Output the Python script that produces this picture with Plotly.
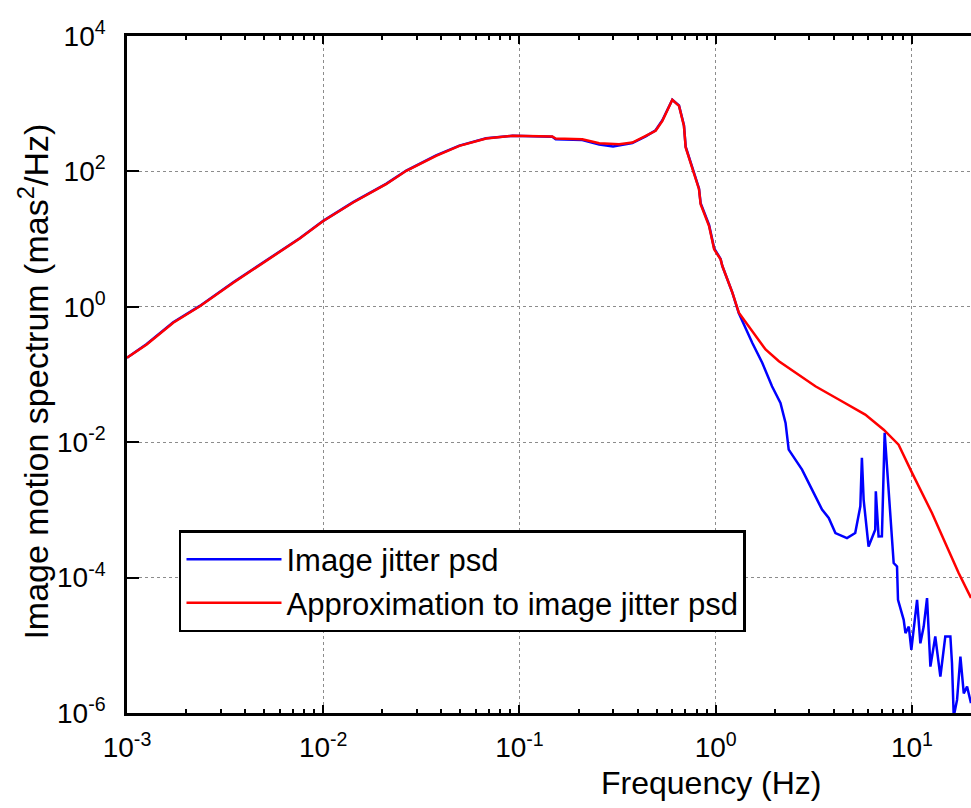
import plotly.graph_objects as go

# ---- data (Hz, mas^2/Hz) ----
freq_red = [0.001, 0.00126, 0.00172, 0.00235, 0.00348, 0.00514, 0.00759, 0.01, 0.0142, 0.0209,
            0.0265, 0.0376, 0.0494, 0.0676, 0.0923, 0.147, 0.153, 0.209, 0.255, 0.322,
            0.376, 0.44, 0.494, 0.535, 0.601, 0.65, 0.689, 0.703, 0.76, 0.822,
            0.838, 0.925, 0.982, 1.059, 1.081, 1.216, 1.312, 1.476, 1.795, 2.099,
            2.553, 3.221, 4.236, 5.781, 7.178, 8.551, 10.0, 12.65, 14.79, 17.3,
            19.45, 20.0]
psd_red = [0.177, 0.278, 0.582, 1.02, 2.27, 4.74, 10.2, 18.5, 34.7, 64.7,
           102, 170, 238, 306, 335, 328, 306, 299, 261, 252,
           267, 335, 398, 558, 1143, 931, 471, 226, 108, 54.6,
           32.7, 15.6, 7.06, 5.02, 4.0, 1.62, 0.818, 0.519, 0.234, 0.157,
           0.106, 0.0671, 0.0427, 0.0256, 0.0153, 0.0092, 0.00355, 0.0009, 0.000324, 0.000117,
           0.000059, 0.00005]

freq_blue = [0.001, 0.00126, 0.00172, 0.00235, 0.00348, 0.00514, 0.00759, 0.01, 0.0142, 0.0209,
             0.0265, 0.0376, 0.0494, 0.0676, 0.0923, 0.147, 0.153, 0.209, 0.255, 0.3,
             0.322, 0.376, 0.44, 0.494, 0.535, 0.601, 0.65, 0.689, 0.703, 0.76,
             0.822, 0.838, 0.925, 0.982, 1.059, 1.081, 1.216, 1.312, 1.365, 1.535,
             1.726, 1.936, 2.138, 2.27, 2.355, 2.754, 3.097, 3.483, 3.767, 4.074,
             4.667, 5.14, 5.458, 5.559, 5.675, 6.012, 6.501, 6.546, 6.761, 7.031,
             7.261, 7.603, 8.072, 8.395, 8.492, 9.078, 9.268, 9.638, 9.931, 10.62,
             11.04, 11.48, 11.94, 12.42, 13.15, 13.96, 14.79, 15.7, 16.0, 16.33,
             16.98, 17.66, 18.37, 19.1, 19.72, 20.0]
psd_blue = [0.177, 0.282, 0.59, 1.03, 2.3, 4.8, 10.3, 18.6, 35.2, 65.5,
            103, 172, 240, 308, 335, 326, 298, 290, 250, 233,
            240, 262, 330, 405, 570, 1143, 940, 480, 232, 112,
            56, 34, 16.2, 7.3, 5.1, 4.0, 1.62, 0.8, 0.615, 0.294,
            0.149, 0.0671, 0.0381, 0.0193, 0.00778, 0.00394, 0.00199, 0.00101, 0.000759, 0.000455,
            0.000384, 0.000455, 0.00113, 0.00586, 0.00141, 0.000288, 0.000509, 0.00188, 0.000406, 0.000407,
            0.01374, 0.00178, 0.000164, 0.000146, 0.000047, 0.0000238, 0.0000151, 0.0000189, 0.00000855, 0.000047,
            0.0000107, 0.0000189, 0.0000498, 0.00000484, 0.0000135, 0.00000344, 0.0000135, 0.0000135, 0.00000543, 0.00000089,
            0.00000156, 0.0000068, 0.00000195, 0.00000245, 0.00000155, 0.0000014]

x_tick_vals = [1e-3, 1e-2, 1e-1, 1e0, 1e1]
x_tick_text = ["10<sup>-3</sup>", "10<sup>-2</sup>", "10<sup>-1</sup>", "10<sup>0</sup>", "10<sup>1</sup>"]
y_tick_vals = [1e-6, 1e-4, 1e-2, 1e0, 1e2, 1e4]
y_tick_text = ["10<sup>-6</sup>", "10<sup>-4</sup>", "10<sup>-2</sup>", "10<sup>0</sup>", "10<sup>2</sup>", "10<sup>4</sup>"]
x_minor_vals = [m * 10.0 ** k for k in range(-3, 2) for m in range(2, 10)]

series_names = ["Image jitter psd", "Approximation to image jitter psd"]

FONT = "Liberation Sans, Arial, Helvetica, sans-serif"

fig = go.Figure()
fig.add_trace(go.Scatter(x=freq_blue, y=psd_blue, mode="lines", name=series_names[0],
                         line=dict(color="#0000ff", width=2.5)))
fig.add_trace(go.Scatter(x=freq_red, y=psd_red, mode="lines", name=series_names[1],
                         line=dict(color="#ff0000", width=2.5)))

fig.update_layout(
    width=971, height=808,
    margin=dict(l=127, r=0, t=36, b=95),
    paper_bgcolor="white", plot_bgcolor="white",
    font=dict(family=FONT, size=28, color="black"),
    showlegend=True,
    legend=dict(x=0.0616, y=0.27, xanchor="left", yanchor="top",
                bgcolor="white", bordercolor="black", borderwidth=2.5,
                font=dict(family=FONT, size=31, color="black"),
                itemwidth=95, tracegroupgap=0),
    xaxis=dict(type="log", range=[-3, 1.301], tickmode="array",
               tickvals=x_tick_vals, ticktext=x_tick_text,
               ticks="inside", ticklen=8, tickwidth=2, tickcolor="black",
               showline=True, linecolor="black", linewidth=2.5, mirror="allticks",
               showgrid=True, gridcolor="#8c8c8c", griddash="dot", gridwidth=1,
               zeroline=False, ticklabelstandoff=8,
               minor=dict(tickmode="array", tickvals=x_minor_vals, ticks="inside",
                          ticklen=4, tickwidth=2, tickcolor="black", showgrid=False),
               tickfont=dict(family=FONT, size=28, color="black")),
    yaxis=dict(type="log", range=[-6, 4], tickmode="array",
               tickvals=y_tick_vals, ticktext=y_tick_text,
               ticks="inside", ticklen=12, tickwidth=2, tickcolor="black",
               showline=True, linecolor="black", linewidth=2.5, mirror=False,
               showgrid=True, gridcolor="#8c8c8c", griddash="dot", gridwidth=1,
               zeroline=False, ticklabelstandoff=13,
               tickfont=dict(family=FONT, size=28, color="black")),
    yaxis2=dict(type="log", range=[-6, 4], overlaying="y", side="right", anchor="x",
                tickmode="array", tickvals=y_tick_vals, showticklabels=False,
                ticks="inside", ticklen=12, tickwidth=2, tickcolor="black",
                showline=False, showgrid=False, zeroline=False),
)

fig.add_annotation(text="Frequency (Hz)", xref="paper", yref="paper",
                   x=0.692, y=-0.103, xanchor="center", yanchor="middle",
                   showarrow=False, font=dict(family=FONT, size=32, color="black"))
fig.add_annotation(text="Image motion spectrum (mas<sup>2</sup>/Hz)", xref="paper", yref="paper",
                   x=-0.111, y=0.49, xanchor="center", yanchor="middle", textangle=-90,
                   showarrow=False, font=dict(family=FONT, size=34, color="black"))

fig.write_html("out.html")
